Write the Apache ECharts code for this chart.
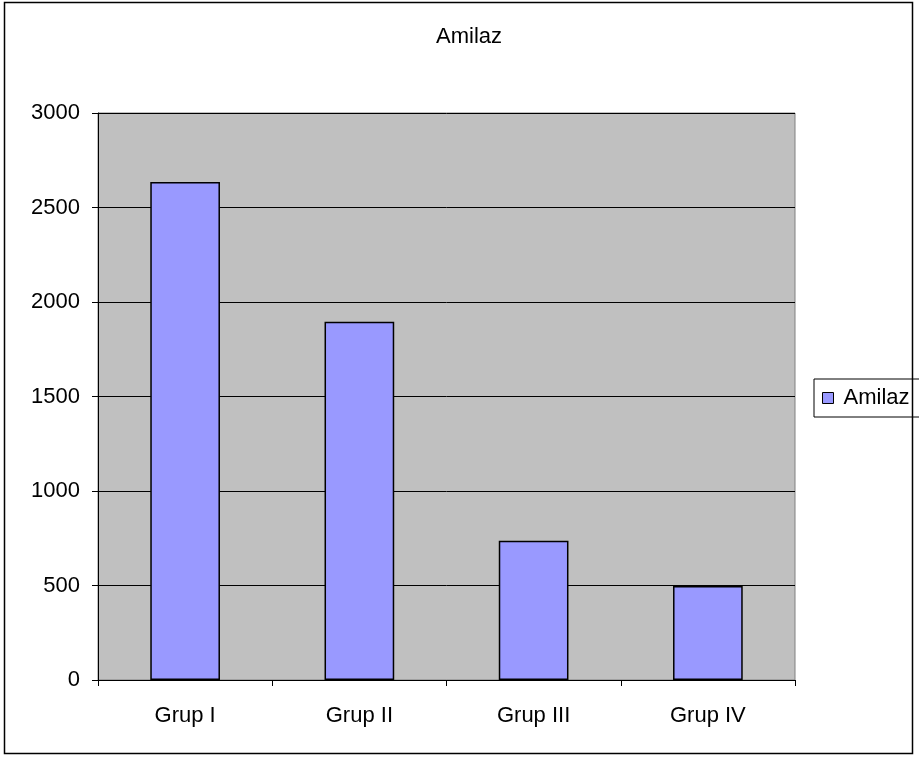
<!DOCTYPE html>
<html>
<head>
<meta charset="utf-8">
<script src="https://cdn.jsdelivr.net/npm/echarts@6/dist/echarts.min.js"></script>
<style>
  html, body { margin: 0; padding: 0; background: #fff; }
  #chart { width: 919px; height: 760px; }
</style>
</head>
<body>
<div id="chart"></div>
<script>
// Amilaz values per group
const categories = ['Grup I', 'Grup II', 'Grup III', 'Grup IV'];
const amilazValues = [2635, 1895, 737, 497];
const yTicks = [0, 500, 1000, 1500, 2000, 2500, 3000];

const FONT = '"Liberation Sans", Arial, sans-serif';
const FS = 22;
const chart = echarts.init(document.getElementById('chart'));

const option = {
  backgroundColor: '#ffffff',
  animation: false,
  title: {
    text: 'Amilaz',
    left: 469,
    top: 26,
    textAlign: 'center',
    padding: 0,
    textStyle: { fontFamily: FONT, fontSize: FS, fontWeight: 'normal', color: '#000' }
  },
  legend: {
    data: ['Amilaz'],
    left: 814,
    top: 379,
    orient: 'vertical',
    icon: 'rect',
    itemWidth: 11,
    itemHeight: 11,
    itemGap: 0,
    padding: [8, 40, 8, 8],
    borderColor: '#000',
    borderWidth: 1,
    itemStyle: { borderColor: '#000', borderWidth: 1 },
    textStyle: { fontFamily: FONT, fontSize: FS, color: '#000', padding: [0, 0, 0, 5] }
  },
  grid: {
    left: 98, right: 124, top: 113, bottom: 80,
    show: true,
    backgroundColor: '#c0c0c0',
    borderColor: '#808080',
    borderWidth: 1
  },
  xAxis: {
    type: 'category',
    data: categories,
    axisLine: { show: true, lineStyle: { color: '#000', width: 1 } },
    axisTick: { show: true, alignWithLabel: false, length: 6, lineStyle: { color: '#000' } },
    axisLabel: { fontFamily: FONT, fontSize: FS, color: '#000', margin: 25 },
    splitLine: { show: false }
  },
  yAxis: {
    type: 'value',
    min: yTicks[0],
    max: yTicks[yTicks.length - 1],
    interval: 500,
    axisLine: { show: true, lineStyle: { color: '#000', width: 1 } },
    axisTick: { show: true, length: 6, lineStyle: { color: '#000' } },
    axisLabel: { fontFamily: FONT, fontSize: FS, color: '#000', margin: 18, formatter: v => String(v) },
    splitLine: { show: true, lineStyle: { color: '#000', width: 1 } }
  },
  series: [{
    name: 'Amilaz',
    type: 'bar',
    data: amilazValues,
    barWidth: '40%',
    itemStyle: { color: '#9999ff', borderColor: '#000', borderWidth: 1.5 }
  }],
  graphic: [{
    type: 'rect',
    shape: { x: 4.5, y: 2.5, width: 908, height: 751 },
    style: { fill: 'none', stroke: '#000', lineWidth: 1.5 },
    silent: true,
    z: 100
  }]
};

chart.setOption(option);
</script>
</body>
</html>
